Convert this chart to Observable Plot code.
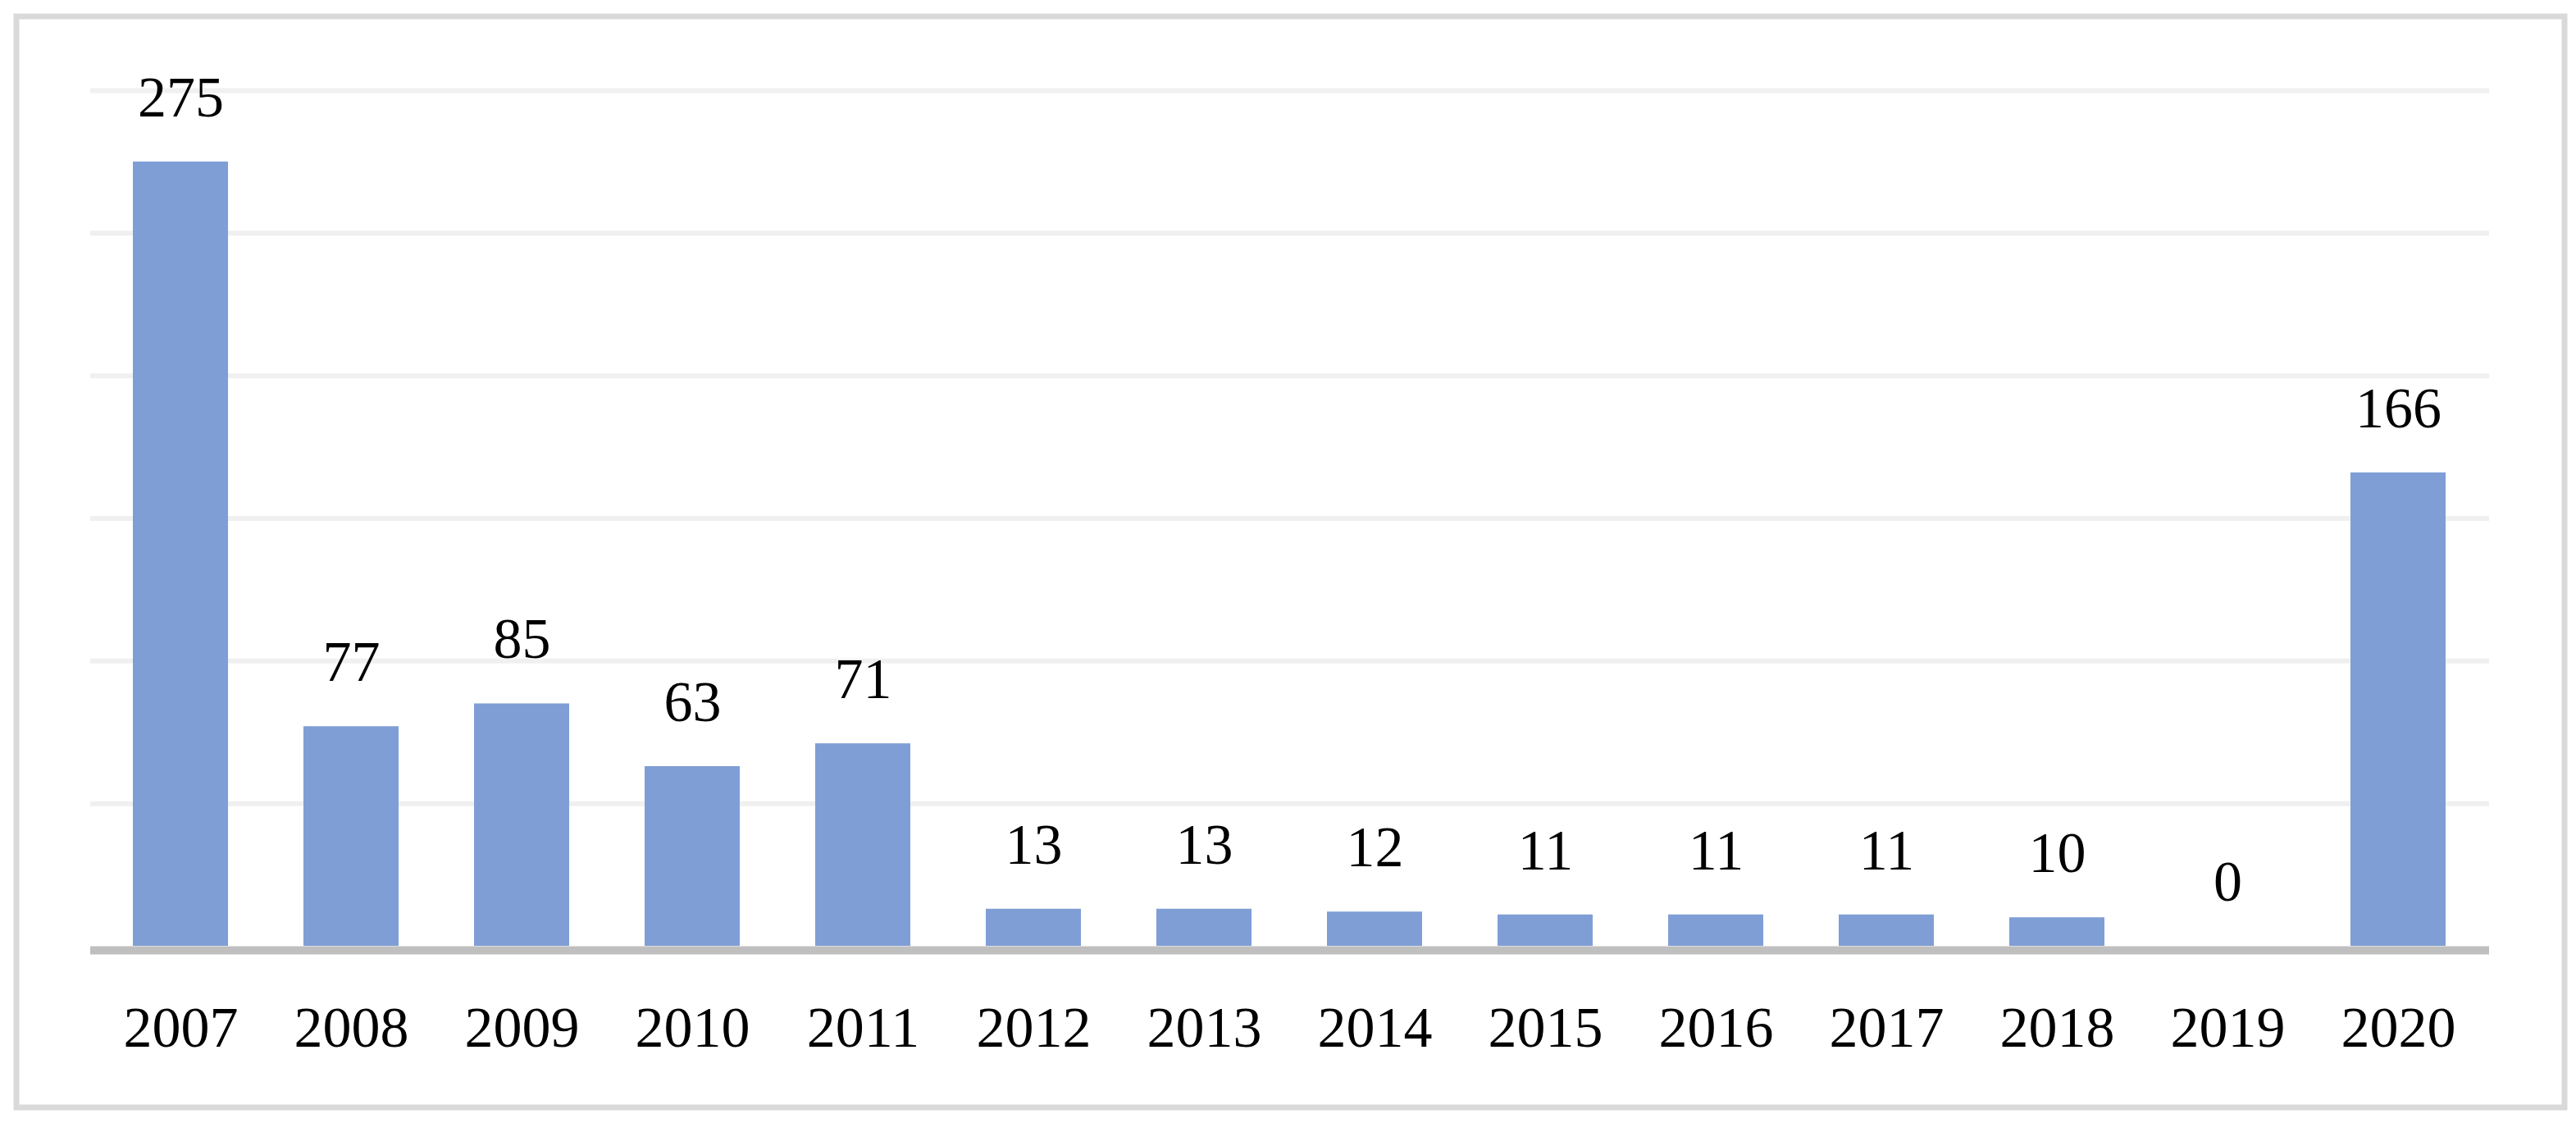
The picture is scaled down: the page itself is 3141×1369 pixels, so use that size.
<!DOCTYPE html>
<html>
<head>
<meta charset="utf-8">
<script src="https://cdn.jsdelivr.net/npm/d3@7"></script>
<script src="https://cdn.jsdelivr.net/npm/@observablehq/plot@0.6"></script>
<style>
  html, body { margin: 0; padding: 0; background: #ffffff; }
  #chart svg { display: block; }
</style>
</head>
<body>
<div id="chart"></div>
<script>
const years = ["2007","2008","2009","2010","2011","2012","2013","2014","2015","2016","2017","2018","2019","2020"];
const counts = [275, 77, 85, 63, 71, 13, 13, 12, 11, 11, 11, 10, 0, 166];
const gridValues = [50, 100, 150, 200, 250, 300];

const data = years.map((year, i) => ({year, count: counts[i]}));

const W = 3141, H = 1369;
const mL = 110, mR = 106, mT = 110, mB = 216;

const chart = Plot.plot({
  width: W,
  height: H,
  marginLeft: mL,
  marginRight: mR,
  marginTop: mT,
  marginBottom: mB,
  style: {
    fontFamily: "'Liberation Serif', 'DejaVu Serif', serif",
    fontSize: "70px",
    color: "#000000",
    background: "#ffffff"
  },
  x: { domain: years, paddingInner: 0.44, paddingOuter: 0.22, label: null },
  y: { domain: [0, 300], label: null, axis: null },
  marks: [
    Plot.frame({
      stroke: "#d9d9d9",
      strokeWidth: 7,
      insetLeft: -(mL - 19.5),
      insetTop: -(mT - 19.5),
      insetRight: -(mR - 14.5),
      insetBottom: -(mB - 19.5)
    }),
    Plot.ruleY(gridValues, { stroke: "#f0f0f0", strokeWidth: 6 }),
    Plot.barY(data, { x: "year", y: "count", fill: "#7f9ed5" }),
    Plot.ruleY([0], { stroke: "#bfbfbf", strokeWidth: 10, dy: 5 }),
    Plot.text(data, {
      x: "year",
      y: "count",
      text: d => String(d.count),
      lineAnchor: "middle",
      dy: -78,
      fill: "#000000",
      fontSize: 70
    }),
    Plot.axisX({
      tickSize: 0,
      tickPadding: 73,
      fontSize: 70,
      fill: "#000000",
      label: null
    })
  ]
});

document.getElementById("chart").appendChild(chart);
</script>
</body>
</html>
